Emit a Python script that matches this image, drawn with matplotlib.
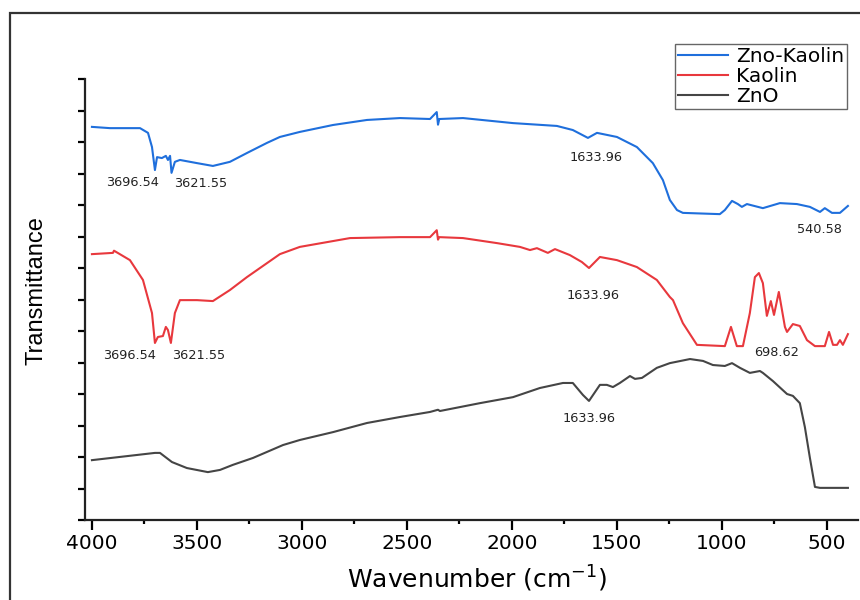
import matplotlib.pyplot as plt
from matplotlib.patches import Rectangle

# wavenumber (cm-1) and transmittance (offset, arbitrary units)
wn_zk = [4000, 3914, 3852, 3771, 3733, 3714, 3700, 3690, 3667, 3648, 3638, 3628, 3621,
         3605, 3581, 3500, 3424, 3343, 3262, 3167, 3105, 3010, 2852, 2690, 2533, 2390,
         2358, 2352, 2346, 2233, 1995, 1786, 1710, 1638, 1595, 1500, 1405, 1329, 1281,
         1248, 1214, 1186, 1010, 986, 952, 924, 905, 881, 805, 724, 643, 581, 533, 510,
         476, 438, 400]
t_zk = [12.48, 12.44, 12.44, 12.44, 12.29, 11.84, 11.11, 11.52, 11.49, 11.56, 11.43, 11.56,
        11.02, 11.37, 11.43, 11.33, 11.24, 11.37, 11.65, 11.97, 12.16, 12.32, 12.54, 12.70,
        12.76, 12.73, 12.95, 12.55, 12.73, 12.76, 12.60, 12.51, 12.38, 12.13, 12.29, 12.16,
        11.84, 11.33, 10.79, 10.16, 9.84, 9.75, 9.71, 9.84, 10.13, 10.03, 9.94, 10.03,
        9.90, 10.06, 10.03, 9.94, 9.78, 9.90, 9.75, 9.75, 9.97]

wn_k = [4000, 3900, 3895, 3819, 3757, 3714, 3700, 3686, 3662, 3648, 3638, 3624, 3605,
        3581, 3500, 3424, 3343, 3262, 3105, 3010, 2771, 2533, 2390, 2358, 2352, 2346,
        2233, 2071, 1962, 1914, 1881, 1829, 1795, 1724, 1667, 1633, 1581, 1500, 1405,
        1310, 1248, 1233, 1186, 1119, 986, 957, 929, 900, 867, 843, 824, 805, 786, 767,
        752, 729, 700, 690, 662, 629, 595, 557, 510, 490, 471, 452, 438, 424, 400]
t_k = [8.44, 8.48, 8.55, 8.25, 7.62, 6.57, 5.62, 5.81, 5.84, 6.13, 6.03, 5.62, 6.57,
       6.98, 6.98, 6.95, 7.30, 7.71, 8.44, 8.67, 8.95, 8.98, 8.98, 9.20, 8.90, 8.98,
       8.95, 8.79, 8.67, 8.57, 8.63, 8.48, 8.60, 8.41, 8.19, 8.00, 8.35, 8.25, 8.03,
       7.62, 7.08, 6.98, 6.25, 5.56, 5.52, 6.13, 5.52, 5.52, 6.57, 7.71, 7.84, 7.52,
       6.48, 6.95, 6.51, 7.24, 6.13, 5.97, 6.22, 6.16, 5.71, 5.52, 5.52, 5.97, 5.56,
       5.56, 5.71, 5.56, 5.90]

wn_z = [4000, 3700, 3676, 3619, 3548, 3448, 3390, 3329, 3233, 3090, 3010, 2852, 2690,
        2533, 2390, 2352, 2343, 2152, 1995, 1867, 1757, 1710, 1662, 1633, 1581, 1548,
        1519, 1486, 1438, 1414, 1381, 1310, 1248, 1152, 1090, 1043, 986, 952, 914, 867,
        819, 805, 757, 690, 662, 629, 605, 581, 557, 533, 400]
t_z = [1.90, 2.13, 2.13, 1.84, 1.65, 1.52, 1.59, 1.75, 1.97, 2.38, 2.54, 2.79, 3.08,
       3.27, 3.43, 3.50, 3.46, 3.71, 3.90, 4.19, 4.35, 4.35, 3.97, 3.78, 4.29, 4.29,
       4.22, 4.35, 4.57, 4.48, 4.51, 4.83, 4.98, 5.11, 5.05, 4.92, 4.89, 4.98, 4.83,
       4.67, 4.73, 4.67, 4.41, 4.00, 3.94, 3.71, 2.95, 1.97, 1.05, 1.02, 1.02]

labels = ["Zno-Kaolin", "Kaolin", "ZnO"]
colors = ["#1f6fdc", "#e8383d", "#454545"]

# peak labels: text, x, y
peaks = [("3696.54", 3805, 10.70), ("3621.55", 3481, 10.67), ("1633.96", 1600, 11.52),
         ("540.58", 538, 9.21),
         ("3696.54", 3819, 5.21), ("3621.55", 3490, 5.21), ("1633.96", 1614, 7.14),
         ("698.62", 738, 5.33),
         ("1633.96", 1633, 3.21)]

plt.rcParams["font.family"] = "DejaVu Sans"
fig = plt.figure(figsize=(8.6, 6), dpi=100)
ax = fig.add_axes([85/860, 1-520/600, 773/860, 441/600])

for wn, t, lab, c in zip([wn_zk, wn_k, wn_z], [t_zk, t_k, t_z], labels, colors):
    ax.plot(wn, t, color=c, lw=1.5, label=lab)

for txt, x, y in peaks:
    ax.text(x, y, txt, ha="center", va="center", fontsize=9.3, color="#222222")

ax.set_xlim(4033, 352)
ax.set_ylim(0, 14)
ax.set_xticks([4000, 3500, 3000, 2500, 2000, 1500, 1000, 500])
ax.set_xticks(range(3750, 400, -500), minor=True)
ax.set_yticks(range(0, 15))
ax.set_yticklabels([])
ax.tick_params(axis="x", which="major", length=7, width=1.6, labelsize=14.5, pad=3)
ax.tick_params(axis="x", which="minor", length=3, width=1.6)
ax.tick_params(axis="y", length=5, width=1.6)

for s in ["top", "right"]:
    ax.spines[s].set_visible(False)
for s in ["left", "bottom"]:
    ax.spines[s].set_linewidth(1.6)
    ax.spines[s].set_color("#222222")

ax.set_xlabel("Wavenumber (cm$^{-1}$)", fontsize=18)
ax.xaxis.set_label_coords(0.507, -0.1)
ax.set_ylabel("Transmittance", fontsize=17, family="Liberation Sans")
ax.yaxis.set_label_coords(-0.048, 0.52)

leg = ax.legend(loc="upper right", bbox_to_anchor=(0.9858, 1.0794), borderaxespad=0,
                fontsize=14.5, handlelength=2.45, handletextpad=0.4, labelspacing=0.05,
                borderpad=0.15, fancybox=False, framealpha=1)
leg.get_frame().set_edgecolor("#666666")
leg.get_frame().set_linewidth(1.0)

# outer frame of the figure
fig.patches.append(Rectangle((10/860, -0.05), 1.0, 1-13/600+0.05, transform=fig.transFigure,
                             fill=False, edgecolor="#333333", linewidth=1.6))

fig.savefig("out.png", dpi=100)
